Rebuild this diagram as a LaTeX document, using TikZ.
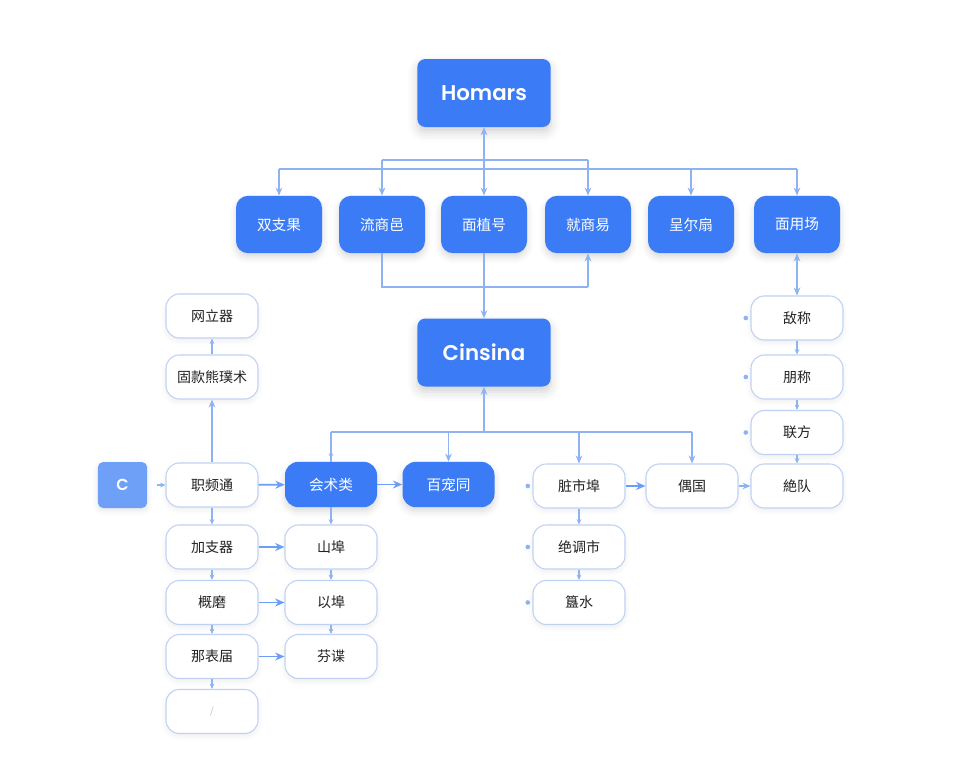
\documentclass[tikz,border=0pt]{standalone}
\usepackage{fontspec}
\setmainfont{Noto Sans CJK SC}
\newfontfamily\headfont{Poppins SemiBold}
\usetikzlibrary{arrows.meta, shadows.blur}
\definecolor{cBlue}{HTML}{3B7CF6}
\definecolor{cSoft}{HTML}{6FA0F7}
\definecolor{cWire}{HTML}{8DB3F2}
\definecolor{cEdge}{HTML}{BFD2F3}
\definecolor{cText}{HTML}{222222}

\begin{document}
\begin{tikzpicture}[
    x=0.75pt, y=-0.75pt, font=\fontsize{10.5}{12}\selectfont,
    head/.style={fill=cBlue, text=white, rounded corners=6pt,
                 minimum width=100pt, minimum height=51pt,
                 font=\headfont\fontsize{16}{18}\selectfont,
                 blur shadow={shadow xshift=0pt, shadow yshift=-4pt,
                   shadow blur radius=7pt, shadow opacity=18}},
    cat/.style={fill=cBlue, text=white, rounded corners=9pt,
                minimum width=64.5pt, minimum height=43pt,
                font=\fontsize{11}{13}\selectfont,
                blur shadow={shadow xshift=0pt, shadow yshift=-3pt,
                  shadow blur radius=5pt, shadow opacity=15}},
    pick/.style={cat, minimum width=69pt, minimum height=34pt, rounded corners=10pt},
    item/.style={draw=cEdge, line width=0.8pt, fill=white, text=cText,
                 rounded corners=10pt, minimum width=69pt, minimum height=33pt,
                 blur shadow={shadow xshift=0pt, shadow yshift=-2pt,
                   shadow blur radius=4pt, shadow opacity=7}},
    wire/.style={draw=cWire, line width=1.1pt},
    link/.style={wire, -{Stealth[length=6pt,width=5pt]}},
    push/.style={draw=cBlue!75, line width=1.4pt, -{Stealth[length=7pt,width=6pt]}},
    hop/.style={draw=cWire, line width=0.8pt, -{Stealth[length=4pt,width=3.5pt]}},
    dot/.style={circle, fill=cWire, inner sep=0pt, minimum size=3.5pt},
]
\useasboundingbox (0,0) rectangle (960,768);

% ---------- Kopf ----------
\node[head] (homars) at (484,93) {Homars};

\node[cat] (r1) at (279,224.5) {双支果};
\node[cat] (r2) at (382,224.5) {流商邑};
\node[cat] (r3) at (484,224.5) {面植号};
\node[cat] (r4) at (588,224.5) {就商易};
\node[cat] (r5) at (691,224.5) {呈尔扇};
\node[cat] (r6) at (797,224.5) {面用场};

\node[head] (cinsina) at (484,352.5) {Cinsina};

% ---------- linke Spalte ----------
\node[item] (a1) at (212,316) {网立器};
\node[item] (a2) at (212,377) {固款熊璞术};
\node[item] (a3) at (212,485) {职频通};
\node[item] (a4) at (212,547) {加支器};
\node[item] (a5) at (212,602.5) {概磨};
\node[item] (a6) at (212,656.5) {那表届};
\node[item] (a7) at (212,711.5) {\textcolor{gray!55}{\fontsize{7}{8}\selectfont /}};

\node[fill=cSoft, text=white, rounded corners=4pt, minimum width=37pt,
      minimum height=34.5pt, font=\headfont\fontsize{12}{14}\selectfont,
      blur shadow={shadow xshift=0pt, shadow yshift=-2pt, shadow blur radius=4pt,
        shadow opacity=10}] (cbox) at (122.5,485) {C};

% ---------- Mitte ----------
\node[pick] (b1) at (331,484.5) {会术类};
\node[pick] (b2) at (448.5,484.5) {百宠同};
\node[item] (m1) at (331,547) {山埠};
\node[item] (m2) at (331,602.5) {以埠};
\node[item] (m3) at (331,656.5) {芬谍};

% ---------- rechts ----------
\node[item] (c1) at (579,486) {脏市埠};
\node[item] (c2) at (579,547) {绝调市};
\node[item] (c3) at (579,602.5) {簋水};
\node[item] (c4) at (692,486) {偶国};

\node[item] (d1) at (797,318) {敌称};
\node[item] (d2) at (797,377) {朋称};
\node[item] (d3) at (797,432.5) {联方};
\node[item] (d4) at (797,486) {絶队};

\foreach \n in {c1,c2,c3,d1,d2,d3}
    \node[dot] (p\n) at ([xshift=-3.5pt]\n.west) {};

% ---------- Verbindungen oben ----------
\coordinate (hb) at (484,169);
\coordinate (hc) at (484,160);
\draw[link] (hb) -- (homars.south);
\draw[wire] (r1.north |- hb) -- (r6.north |- hb);
\draw[wire] (r2.north |- hc) -- (r4.north |- hc);
\draw[wire] (r2.north |- hc) -- (r2.north |- hb);
\draw[wire] (r4.north |- hc) -- (r4.north |- hb);
\foreach \i in {1,...,6}
    \draw[link] (r\i.north |- hb) -- (r\i.north);

\coordinate (lo) at (484,287);
\draw[wire] (r2.south) -- (r2.south |- lo) -- (r4.south |- lo);
\draw[link] (r4.south |- lo) -- (r4.south);
\draw[link] (r3.south) -- (cinsina.north);
\draw[wire, line width=1.3pt, {Stealth[length=6pt,width=5pt]}-{Stealth[length=6pt,width=5pt]}] (r6.south) -- (d1.north);

% ---------- Verbindungen unter Cinsina ----------
\coordinate (cb) at (484,432);
\draw[link] (cb) -- (cinsina.south);
\draw[wire] (b1.north |- cb) -- (c4.north |- cb);
\draw[wire] (b1.north |- cb) -- (b1.north);
\draw[hop] (b1.north) -- ++(0,-11);
\foreach \n in {b2,c1,c4}
    \draw[link] (\n.north |- cb) -- (\n.north);

% ---------- links ----------
\draw[hop, shorten <=7pt] (cbox) -- (a3);
\draw[link] (a3.north) -- (a2.south);
\draw[hop] (a2.north) -- (a1.south);
\draw[push] (a3) -- (b1);
\draw[push] (b1) -- (b2);
\draw[push] (a4) -- (m1);
\draw[push] (a5) -- (m2);
\draw[push] (a6) -- (m3);
\draw[hop] (a3) -- (a4);
\draw[hop] (a4) -- (a5);
\draw[hop] (a5) -- (a6);
\draw[hop] (a6) -- (a7);
\draw[hop] (b1) -- (m1);
\draw[hop] (m1) -- (m2);
\draw[hop] (m2) -- (m3);

% ---------- rechts ----------
\draw[push] (c1) -- (c4);
\draw[link] (c4) -- (d4);
\draw[hop] (c1) -- (c2);
\draw[hop] (c2) -- (c3);
\draw[hop] (d1) -- (d2);
\draw[hop] (d2) -- (d3);
\draw[hop] (d3) -- (d4);

\end{tikzpicture}
\end{document}
